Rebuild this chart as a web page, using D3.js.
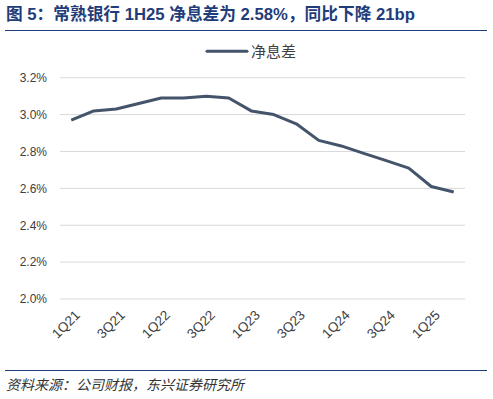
<!DOCTYPE html>
<html>
<head>
<meta charset="utf-8">
<script src="https://cdn.jsdelivr.net/npm/d3@7"></script>
<style>
  body { margin: 0; background: #fff; }
  svg { display: block; font-family: "Liberation Sans", Arial, "Noto Sans CJK SC", sans-serif; }
</style>
</head>
<body>
<svg width="493" height="399"></svg>
<script>
const quarters = ['1Q21','2Q21','3Q21','4Q21','1Q22','2Q22','3Q22','4Q22','1Q23','2Q23','3Q23','4Q23','1Q24','2Q24','3Q24','4Q24','1Q25','2Q25']
const nim = [2.97, 3.02, 3.03, 3.06, 3.09, 3.09, 3.10, 3.09, 3.02, 3.00, 2.95, 2.86, 2.83, 2.79, 2.75, 2.71, 2.61, 2.58]
const yTicks = [2.0, 2.2, 2.4, 2.6, 2.8, 3.0, 3.2]
const seriesName = '净息差'

const svg = d3.select('svg')
const navy = '#1f3d7a'
const lineColor = '#44546a'

// title
svg.append('text')
  .attr('x', 6).attr('y', 20)
  .attr('fill', navy)
  .style('font-size', '16.7px').style('font-weight', 'bold')
  .style('font-family', '"Liberation Sans", Arial, "Noto Sans CJK SC", sans-serif')
  .text('图 5：常熟银行 1H25 净息差为 2.58%，同比下降 21bp')

svg.append('line')
  .attr('x1', 5).attr('x2', 487).attr('y1', 30.5).attr('y2', 30.5)
  .attr('stroke', navy).attr('stroke-width', 1.2)

const x = d3.scalePoint().domain(quarters).range([60, 465]).padding(0.5)
const y = d3.scaleLinear().domain([2.0, 3.2]).range([299, 77.7])

// grid
svg.append('g')
  .selectAll('line')
  .data(yTicks)
  .enter().append('line')
    .attr('x1', 60).attr('x2', 465)
    .attr('y1', d => y(d)).attr('y2', d => y(d))
    .attr('stroke', '#d9d9d9').attr('stroke-width', 1)

// y axis
const yAxis = d3.axisLeft(y).tickValues(yTicks).tickFormat(d => d.toFixed(1) + '%').tickSize(0).tickPadding(13)
const gy = svg.append('g').attr('transform', 'translate(60,0)').call(yAxis)
gy.select('.domain').remove()
gy.selectAll('text').style('font-size', '12px').attr('fill', '#404040')
  .style('font-family', '"Liberation Sans", Arial, sans-serif')

// x axis
const xAxis = d3.axisBottom(x).tickValues(quarters.filter((d, i) => i % 2 === 0)).tickSize(0)
const gx = svg.append('g').attr('transform', 'translate(0,299)').call(xAxis)
gx.select('.domain').remove()
gx.selectAll('text')
  .style('font-size', '13.5px').attr('fill', '#404040')
  .style('font-family', '"Liberation Sans", Arial, sans-serif')
  .attr('text-anchor', 'end')
  .attr('dy', null).attr('y', 0)
  .attr('transform', 'translate(9,17) rotate(-45)')

// line
const line = d3.line().x((d, i) => x(quarters[i])).y(d => y(d))
svg.append('path')
  .datum(nim)
  .attr('d', line)
  .attr('fill', 'none')
  .attr('stroke', lineColor)
  .attr('stroke-width', 3)
  .attr('stroke-linejoin', 'round')

// legend
svg.append('line')
  .attr('x1', 207).attr('x2', 247).attr('y1', 51.3).attr('y2', 51.3)
  .attr('stroke', lineColor).attr('stroke-width', 3).attr('stroke-linecap', 'round')
svg.append('text')
  .attr('x', 251).attr('y', 57)
  .attr('fill', '#404040')
  .style('font-size', '15px')
  .style('font-family', '"Noto Sans CJK SC", sans-serif')
  .text(seriesName)

// footer
svg.append('line')
  .attr('x1', 5).attr('x2', 487).attr('y1', 370.5).attr('y2', 370.5)
  .attr('stroke', navy).attr('stroke-width', 1.2)
svg.append('text')
  .attr('x', 6).attr('y', 390)
  .attr('fill', '#333')
  .style('font-size', '14px').style('font-style', 'italic')
  .style('font-family', '"Noto Sans CJK SC", sans-serif')
  .text('资料来源：公司财报，东兴证券研究所')
</script>
</body>
</html>
